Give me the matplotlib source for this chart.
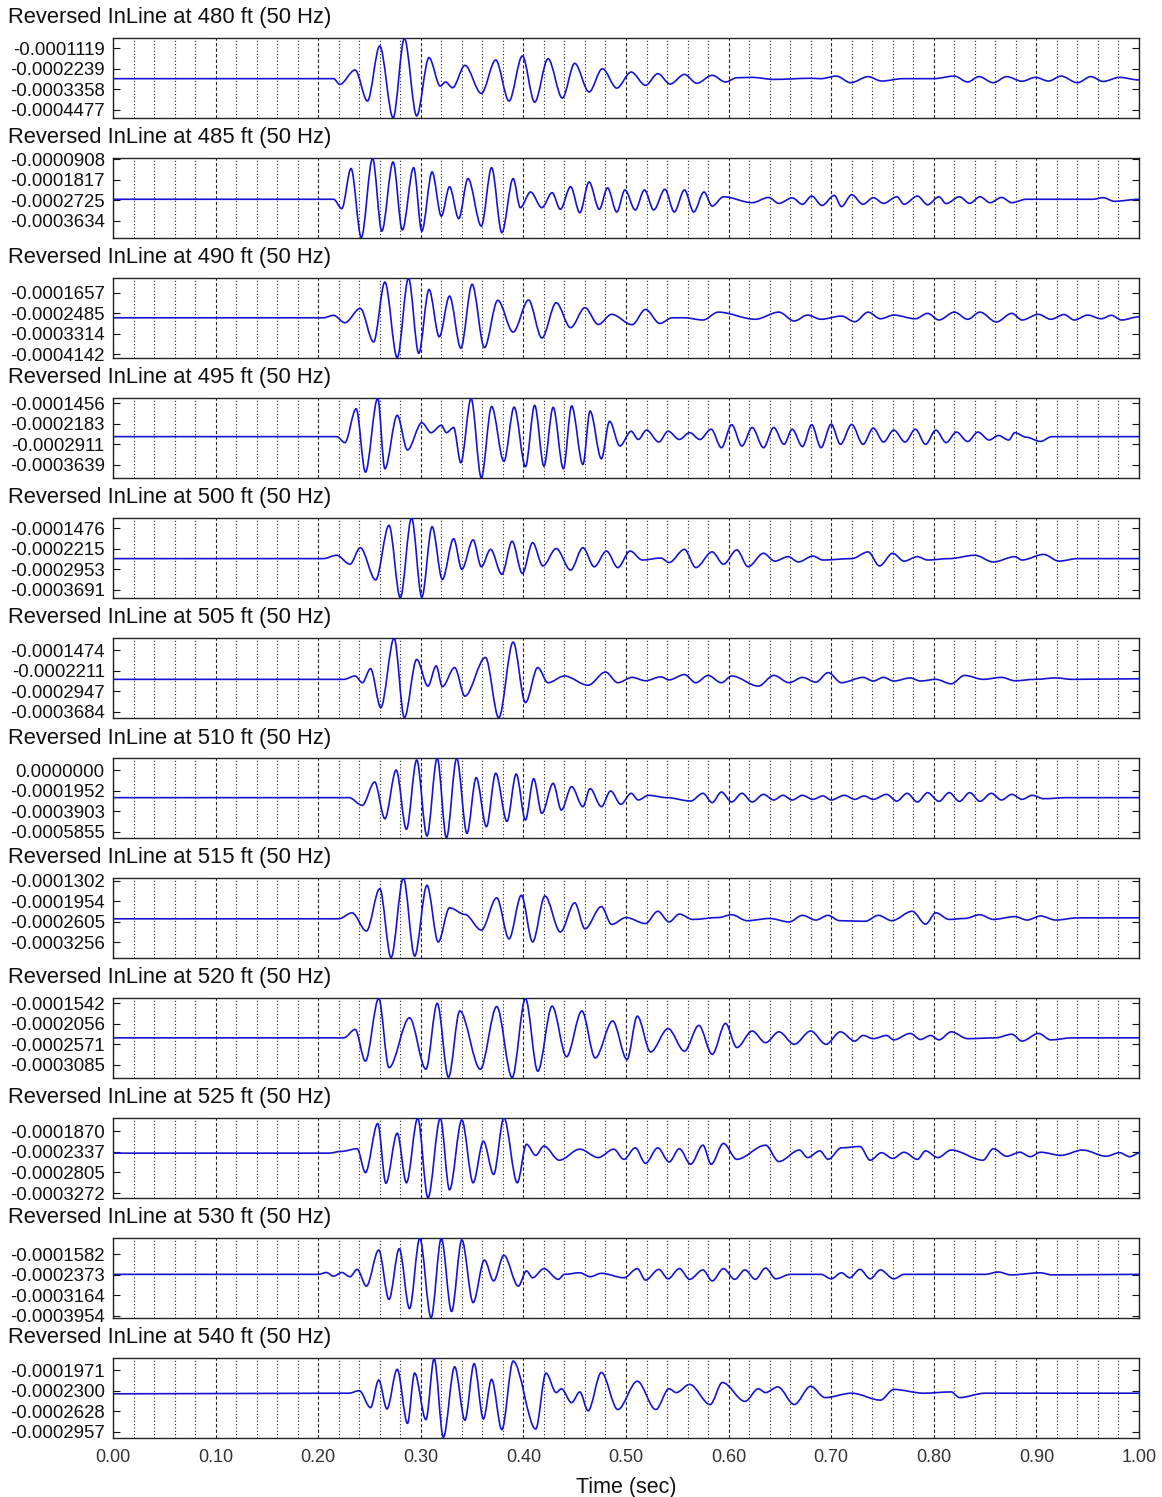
import matplotlib
matplotlib.use("Agg")
import numpy as np
import matplotlib.pyplot as plt
from matplotlib.path import Path
from matplotlib.patches import PathPatch
from matplotlib.ticker import MultipleLocator, FixedLocator

plt.rcParams["font.family"] = ["Liberation Sans", "DejaVu Sans"]

# ---------------------------------------------------------------------------
# Data: receiver offsets, y-axis ticks/limits and picked trace extrema
# (time in s, amplitude in units of 1e-4)
# ---------------------------------------------------------------------------
AMP_UNIT = 1e-4

offsets_ft = [480, 485, 490, 495, 500, 505, 510, 515, 520, 525, 530, 540]
source_freq_hz = 50

ytick_values = [
    [-0.0001119, -0.0002239, -0.0003358, -0.0004477],
    [-0.0000908, -0.0001817, -0.0002725, -0.0003634],
    [-0.0001657, -0.0002485, -0.0003314, -0.0004142],
    [-0.0001456, -0.0002183, -0.0002911, -0.0003639],
    [-0.0001476, -0.0002215, -0.0002953, -0.0003691],
    [-0.0001474, -0.0002211, -0.0002947, -0.0003684],
    [0.0000000, -0.0001952, -0.0003903, -0.0005855],
    [-0.0001302, -0.0001954, -0.0002605, -0.0003256],
    [-0.0001542, -0.0002056, -0.0002571, -0.0003085],
    [-0.0001870, -0.0002337, -0.0002805, -0.0003272],
    [-0.0001582, -0.0002373, -0.0003164, -0.0003954],
    [-0.0001971, -0.0002300, -0.0002628, -0.0002957],
]

# (upper, lower) amplitude limits, units of 1e-4
y_limits = [
    (-0.576, -4.912), (-0.864, -4.384), (-1.054, -4.303), (-1.279, -4.098),
    (-1.118, -3.978), (-1.045, -3.899), (1.137, -6.423), (-1.207, -3.762),
    (-1.417, -3.410), (-1.575, -3.385), (-0.968, -4.031), (-1.780, -3.053),
]

trace_480 = [
    (0.000, -2.78), (0.215, -2.78), (0.221, -3.09), (0.236, -2.31), (0.248, -3.99),
    (0.260, -1.01), (0.273, -4.90), (0.284, -0.60), (0.296, -4.80), (0.308, -1.64),
    (0.319, -3.18), (0.324, -2.96), (0.331, -3.27), (0.343, -2.06), (0.359, -3.58),
    (0.373, -1.77), (0.386, -3.99), (0.399, -1.55), (0.411, -4.05), (0.424, -1.70),
    (0.438, -3.83), (0.450, -1.95), (0.464, -3.50), (0.477, -2.24), (0.491, -3.29),
    (0.505, -2.42), (0.519, -3.14), (0.531, -2.51), (0.543, -3.07), (0.557, -2.55),
    (0.569, -3.03), (0.584, -2.60), (0.597, -2.96), (0.608, -2.73), (0.623, -2.71),
    (0.644, -2.82), (0.680, -2.76), (0.690, -2.78), (0.705, -2.64), (0.719, -3.00),
    (0.736, -2.67), (0.749, -2.91), (0.770, -2.78), (0.800, -2.78), (0.820, -2.64),
    (0.833, -2.96), (0.844, -2.67), (0.858, -3.00), (0.871, -2.67), (0.886, -2.92),
    (0.899, -2.71), (0.912, -2.91), (0.924, -2.64), (0.940, -3.00), (0.953, -2.67),
    (0.965, -2.93), (0.981, -2.71), (1.000, -2.85),
]

trace_485 = [
    (0.000, -2.68), (0.215, -2.68), (0.223, -3.09), (0.232, -1.33), (0.242, -4.36),
    (0.253, -0.88), (0.262, -4.08), (0.273, -1.04), (0.282, -4.03), (0.293, -1.29),
    (0.301, -4.08), (0.311, -1.48), (0.320, -3.42), (0.328, -2.13), (0.337, -3.53),
    (0.346, -1.77), (0.359, -3.86), (0.369, -1.29), (0.379, -4.15), (0.390, -1.77),
    (0.397, -3.05), (0.407, -2.36), (0.418, -3.05), (0.428, -2.39), (0.436, -3.12),
    (0.446, -2.13), (0.455, -3.27), (0.464, -1.92), (0.474, -3.12), (0.482, -2.18),
    (0.491, -3.24), (0.499, -2.27), (0.509, -3.15), (0.518, -2.27), (0.527, -3.15),
    (0.538, -2.24), (0.547, -3.24), (0.557, -2.27), (0.566, -3.24), (0.576, -2.36),
    (0.584, -2.98), (0.595, -2.57), (0.623, -2.83), (0.639, -2.60), (0.649, -2.86),
    (0.662, -2.62), (0.672, -2.90), (0.681, -2.54), (0.691, -2.95), (0.703, -2.51),
    (0.710, -3.00), (0.720, -2.48), (0.731, -2.90), (0.741, -2.61), (0.751, -2.86),
    (0.764, -2.57), (0.771, -2.90), (0.784, -2.54), (0.794, -2.92), (0.805, -2.57),
    (0.812, -2.87), (0.825, -2.57), (0.835, -2.86), (0.845, -2.57), (0.855, -2.83),
    (0.866, -2.60), (0.876, -2.83), (0.890, -2.68), (0.955, -2.68), (0.965, -2.61),
    (0.976, -2.77), (1.000, -2.68),
]

trace_490 = [
    (0.000, -2.67), (0.205, -2.67), (0.215, -2.57), (0.226, -2.87), (0.241, -2.29),
    (0.254, -3.65), (0.265, -1.22), (0.277, -4.29), (0.288, -1.06), (0.298, -4.11),
    (0.308, -1.52), (0.318, -3.44), (0.328, -1.79), (0.339, -3.90), (0.350, -1.31),
    (0.362, -3.88), (0.375, -1.96), (0.390, -3.25), (0.405, -1.95), (0.418, -3.49),
    (0.432, -2.06), (0.446, -3.07), (0.460, -2.26), (0.473, -2.94), (0.486, -2.53),
    (0.506, -2.95), (0.519, -2.33), (0.533, -2.90), (0.545, -2.67), (0.557, -2.67),
    (0.575, -2.76), (0.590, -2.44), (0.626, -2.73), (0.649, -2.44), (0.664, -2.80),
    (0.677, -2.56), (0.690, -2.73), (0.710, -2.60), (0.723, -2.83), (0.736, -2.44),
    (0.748, -2.71), (0.761, -2.56), (0.782, -2.71), (0.794, -2.49), (0.805, -2.76),
    (0.820, -2.44), (0.833, -2.73), (0.845, -2.44), (0.861, -2.84), (0.876, -2.49),
    (0.886, -2.76), (0.902, -2.53), (0.914, -2.73), (0.927, -2.54), (0.937, -2.76),
    (0.950, -2.56), (0.963, -2.71), (0.973, -2.57), (0.983, -2.76), (1.000, -2.63),
]

trace_495 = [
    (0.000, -2.64), (0.218, -2.64), (0.226, -2.85), (0.237, -1.66), (0.246, -3.89),
    (0.258, -1.29), (0.265, -3.77), (0.277, -1.89), (0.287, -3.11), (0.301, -2.15),
    (0.310, -2.50), (0.320, -2.24), (0.325, -2.50), (0.332, -2.32), (0.339, -3.56),
    (0.349, -1.30), (0.359, -4.09), (0.369, -1.58), (0.381, -3.51), (0.391, -1.60),
    (0.402, -3.70), (0.411, -1.54), (0.420, -3.68), (0.429, -1.61), (0.439, -3.77),
    (0.447, -1.56), (0.458, -3.62), (0.465, -1.74), (0.476, -3.42), (0.484, -2.10),
    (0.494, -2.97), (0.505, -2.45), (0.512, -2.74), (0.520, -2.41), (0.532, -2.83),
    (0.541, -2.45), (0.552, -2.74), (0.562, -2.50), (0.572, -2.74), (0.583, -2.38),
    (0.593, -3.03), (0.603, -2.22), (0.613, -2.97), (0.623, -2.32), (0.634, -3.03),
    (0.644, -2.32), (0.654, -2.91), (0.662, -2.38), (0.672, -2.99), (0.681, -2.22),
    (0.690, -3.03), (0.700, -2.20), (0.709, -2.91), (0.720, -2.21), (0.731, -2.91),
    (0.741, -2.34), (0.751, -2.83), (0.761, -2.41), (0.772, -2.83), (0.782, -2.38),
    (0.792, -2.91), (0.802, -2.41), (0.812, -2.85), (0.822, -2.48), (0.833, -2.81),
    (0.843, -2.48), (0.854, -2.76), (0.863, -2.60), (0.873, -2.76), (0.879, -2.50),
    (0.890, -2.66), (0.904, -2.81), (0.915, -2.64), (1.000, -2.64),
]

trace_500 = [
    (0.000, -2.57), (0.205, -2.57), (0.218, -2.45), (0.231, -2.77), (0.241, -2.18),
    (0.256, -3.33), (0.269, -1.38), (0.280, -3.97), (0.291, -1.12), (0.301, -3.95),
    (0.311, -1.43), (0.321, -3.31), (0.332, -1.86), (0.340, -2.95), (0.351, -1.90),
    (0.359, -2.86), (0.368, -2.24), (0.379, -3.13), (0.389, -1.95), (0.399, -3.10),
    (0.409, -2.00), (0.419, -2.83), (0.432, -2.21), (0.446, -2.98), (0.458, -2.18),
    (0.469, -2.86), (0.481, -2.30), (0.492, -2.89), (0.504, -2.30), (0.516, -2.62),
    (0.534, -2.55), (0.542, -2.71), (0.557, -2.24), (0.568, -2.89), (0.584, -2.33),
    (0.595, -2.77), (0.608, -2.26), (0.619, -2.86), (0.634, -2.38), (0.645, -2.66),
    (0.658, -2.50), (0.668, -2.69), (0.682, -2.48), (0.692, -2.62), (0.720, -2.57),
    (0.736, -2.33), (0.747, -2.83), (0.760, -2.38), (0.771, -2.66), (0.784, -2.50),
    (0.794, -2.62), (0.815, -2.57), (0.840, -2.45), (0.858, -2.69), (0.879, -2.50),
    (0.886, -2.62), (0.907, -2.42), (0.922, -2.66), (0.940, -2.57), (1.000, -2.57),
]

trace_505 = [
    (0.000, -2.52), (0.225, -2.52), (0.236, -2.40), (0.243, -2.64), (0.251, -2.14),
    (0.261, -3.53), (0.274, -1.05), (0.284, -3.89), (0.296, -1.81), (0.307, -2.76),
    (0.315, -2.04), (0.321, -2.78), (0.333, -2.10), (0.343, -3.12), (0.363, -1.74),
    (0.376, -3.89), (0.390, -1.19), (0.402, -3.35), (0.414, -2.10), (0.424, -2.64),
    (0.440, -2.40), (0.463, -2.73), (0.480, -2.26), (0.492, -2.64), (0.506, -2.45),
    (0.519, -2.57), (0.534, -2.43), (0.542, -2.54), (0.557, -2.35), (0.568, -2.64),
    (0.580, -2.38), (0.593, -2.64), (0.603, -2.40), (0.629, -2.76), (0.644, -2.38),
    (0.659, -2.64), (0.672, -2.45), (0.685, -2.62), (0.697, -2.28), (0.710, -2.64),
    (0.731, -2.45), (0.741, -2.58), (0.751, -2.45), (0.761, -2.58), (0.777, -2.47),
    (0.787, -2.58), (0.802, -2.52), (0.817, -2.68), (0.830, -2.38), (0.848, -2.52),
    (0.866, -2.45), (0.879, -2.57), (0.899, -2.52), (0.919, -2.47), (0.935, -2.52),
    (1.000, -2.50),
]

trace_510 = [
    (0.000, -2.61), (0.230, -2.61), (0.243, -3.34), (0.255, -1.13), (0.265, -4.60),
    (0.276, 0.00), (0.286, -5.60), (0.296, 0.95), (0.306, -6.23), (0.316, 1.12),
    (0.325, -6.41), (0.335, 1.12), (0.345, -5.98), (0.354, -0.72), (0.364, -5.35),
    (0.373, -0.31), (0.384, -4.85), (0.393, -0.38), (0.402, -4.72), (0.410, -0.82),
    (0.418, -4.09), (0.429, -1.26), (0.437, -3.78), (0.447, -1.57), (0.458, -3.46),
    (0.465, -1.76), (0.476, -3.46), (0.485, -1.98), (0.495, -3.24), (0.505, -2.20),
    (0.512, -2.83), (0.522, -2.39), (0.540, -2.61), (0.563, -2.93), (0.575, -2.20),
    (0.584, -3.08), (0.593, -2.08), (0.603, -3.02), (0.613, -2.20), (0.623, -3.02),
    (0.634, -2.30), (0.644, -2.83), (0.653, -2.39), (0.662, -2.83), (0.672, -2.39),
    (0.682, -2.77), (0.692, -2.45), (0.700, -2.83), (0.713, -2.39), (0.723, -2.77),
    (0.732, -2.45), (0.741, -2.77), (0.754, -2.30), (0.764, -2.93), (0.774, -2.20),
    (0.784, -3.02), (0.794, -2.14), (0.805, -2.96), (0.815, -2.14), (0.825, -2.96),
    (0.835, -2.14), (0.845, -2.96), (0.856, -2.20), (0.866, -2.83), (0.876, -2.30),
    (0.886, -2.77), (0.896, -2.39), (0.907, -2.71), (0.930, -2.61), (1.000, -2.61),
]

trace_515 = [
    (0.000, -2.51), (0.220, -2.51), (0.233, -2.32), (0.247, -2.90), (0.260, -1.55),
    (0.271, -3.75), (0.283, -1.21), (0.294, -3.70), (0.306, -1.44), (0.317, -3.25),
    (0.328, -2.16), (0.343, -2.37), (0.359, -2.87), (0.374, -1.84), (0.386, -3.15),
    (0.398, -1.76), (0.409, -3.25), (0.421, -1.78), (0.436, -2.93), (0.450, -2.00),
    (0.460, -2.83), (0.476, -2.12), (0.486, -2.69), (0.500, -2.47), (0.519, -2.66),
    (0.531, -2.27), (0.542, -2.61), (0.552, -2.36), (0.565, -2.53), (0.590, -2.47),
    (0.603, -2.38), (0.618, -2.57), (0.640, -2.50), (0.659, -2.61), (0.672, -2.40),
    (0.685, -2.55), (0.697, -2.40), (0.708, -2.57), (0.733, -2.59), (0.746, -2.40),
    (0.759, -2.57), (0.779, -2.27), (0.792, -2.68), (0.802, -2.32), (0.815, -2.53),
    (0.830, -2.50), (0.845, -2.38), (0.858, -2.53), (0.879, -2.44), (0.891, -2.55),
    (0.904, -2.42), (0.919, -2.55), (0.940, -2.48), (1.000, -2.48),
]

trace_520 = [
    (0.000, -2.41), (0.225, -2.41), (0.236, -2.20), (0.246, -2.99), (0.259, -1.43),
    (0.269, -3.15), (0.289, -1.91), (0.305, -3.19), (0.316, -1.55), (0.327, -3.39),
    (0.338, -1.74), (0.358, -3.19), (0.374, -1.63), (0.389, -3.40), (0.402, -1.43),
    (0.414, -3.24), (0.428, -1.62), (0.442, -2.88), (0.457, -1.74), (0.470, -2.91),
    (0.487, -1.99), (0.501, -2.95), (0.511, -1.87), (0.524, -2.76), (0.541, -2.18),
    (0.557, -2.74), (0.571, -2.10), (0.584, -2.82), (0.597, -2.05), (0.608, -2.65),
    (0.623, -2.24), (0.636, -2.53), (0.649, -2.26), (0.664, -2.57), (0.680, -2.24),
    (0.695, -2.57), (0.709, -2.26), (0.723, -2.49), (0.731, -2.35), (0.741, -2.43),
    (0.754, -2.35), (0.761, -2.46), (0.777, -2.30), (0.787, -2.45), (0.797, -2.35),
    (0.805, -2.46), (0.817, -2.26), (0.833, -2.43), (0.860, -2.41), (0.876, -2.32),
    (0.886, -2.49), (0.902, -2.30), (0.914, -2.46), (0.935, -2.41), (1.000, -2.41),
]

trace_525 = [
    (0.000, -2.37), (0.210, -2.37), (0.223, -2.33), (0.238, -2.27), (0.246, -2.81),
    (0.258, -1.70), (0.266, -3.05), (0.277, -1.92), (0.286, -3.04), (0.297, -1.58),
    (0.307, -3.38), (0.319, -1.58), (0.328, -3.20), (0.340, -1.62), (0.351, -3.04),
    (0.361, -2.10), (0.371, -2.85), (0.381, -1.57), (0.394, -3.04), (0.403, -2.17),
    (0.412, -2.42), (0.420, -2.21), (0.435, -2.53), (0.455, -2.28), (0.473, -2.47),
    (0.488, -2.28), (0.498, -2.51), (0.509, -2.25), (0.519, -2.60), (0.531, -2.25),
    (0.542, -2.57), (0.552, -2.27), (0.563, -2.62), (0.575, -2.19), (0.583, -2.62),
    (0.595, -2.15), (0.608, -2.51), (0.636, -2.19), (0.649, -2.56), (0.669, -2.30),
    (0.677, -2.47), (0.689, -2.32), (0.697, -2.51), (0.710, -2.25), (0.728, -2.22),
    (0.738, -2.53), (0.749, -2.36), (0.760, -2.49), (0.771, -2.35), (0.784, -2.51),
    (0.792, -2.32), (0.804, -2.47), (0.817, -2.30), (0.848, -2.53), (0.858, -2.27),
    (0.871, -2.44), (0.884, -2.35), (0.894, -2.45), (0.904, -2.35), (0.924, -2.42),
    (0.945, -2.30), (0.968, -2.44), (0.981, -2.36), (0.991, -2.45), (1.000, -2.37),
]

trace_530 = [
    (0.000, -2.36), (0.200, -2.36), (0.208, -2.29), (0.215, -2.43), (0.223, -2.29),
    (0.231, -2.45), (0.238, -2.17), (0.247, -2.81), (0.259, -1.43), (0.269, -3.32),
    (0.279, -1.38), (0.289, -3.67), (0.299, -0.98), (0.310, -4.02), (0.320, -0.98),
    (0.330, -3.78), (0.340, -1.04), (0.351, -3.44), (0.362, -1.81), (0.371, -2.61),
    (0.381, -1.63), (0.395, -2.81), (0.403, -2.23), (0.409, -2.49), (0.420, -2.14),
    (0.434, -2.55), (0.440, -2.36), (0.455, -2.30), (0.465, -2.45), (0.476, -2.32),
    (0.498, -2.49), (0.511, -2.14), (0.519, -2.58), (0.532, -2.17), (0.541, -2.53),
    (0.552, -2.14), (0.562, -2.55), (0.575, -2.19), (0.584, -2.61), (0.595, -2.14),
    (0.606, -2.55), (0.616, -2.19), (0.626, -2.55), (0.636, -2.12), (0.646, -2.53),
    (0.660, -2.36), (0.690, -2.36), (0.700, -2.53), (0.710, -2.30), (0.718, -2.49),
    (0.728, -2.17), (0.738, -2.53), (0.748, -2.19), (0.761, -2.53), (0.771, -2.36),
    (0.850, -2.36), (0.863, -2.27), (0.875, -2.38), (0.904, -2.30), (0.915, -2.38),
    (1.000, -2.36),
]

trace_540 = [
    (0.000, -2.35), (0.230, -2.34), (0.240, -2.30), (0.251, -2.57), (0.259, -2.13),
    (0.267, -2.59), (0.277, -1.96), (0.287, -2.82), (0.294, -2.02), (0.305, -2.76),
    (0.313, -1.79), (0.322, -3.04), (0.333, -1.92), (0.343, -2.77), (0.352, -1.87),
    (0.361, -2.75), (0.369, -2.12), (0.379, -2.92), (0.390, -1.83), (0.412, -2.91),
    (0.422, -2.02), (0.432, -2.33), (0.437, -2.27), (0.447, -2.49), (0.455, -2.32),
    (0.463, -2.62), (0.476, -2.01), (0.492, -2.60), (0.511, -2.15), (0.529, -2.60),
    (0.542, -2.27), (0.549, -2.33), (0.562, -2.20), (0.582, -2.52), (0.594, -2.17),
    (0.616, -2.47), (0.629, -2.27), (0.636, -2.33), (0.648, -2.24), (0.664, -2.52),
    (0.680, -2.23), (0.694, -2.41), (0.720, -2.34), (0.748, -2.45), (0.761, -2.28),
    (0.790, -2.34), (0.817, -2.32), (0.825, -2.41), (0.850, -2.34), (1.000, -2.34),
]

traces = [trace_480, trace_485, trace_490, trace_495, trace_500, trace_505,
          trace_510, trace_515, trace_520, trace_525, trace_530, trace_540]

x_tick_values = [0.0, 0.1, 0.2, 0.3, 0.4, 0.5, 0.6, 0.7, 0.8, 0.9, 1.0]


def smooth_trace_path(points):
    """Cubic Bezier path through the picked extrema with flat tangents."""
    verts = [(points[0][0], points[0][1] * AMP_UNIT)]
    codes = [Path.MOVETO]
    for (t0, a0), (t1, a1) in zip(points[:-1], points[1:]):
        dt = t1 - t0
        verts += [(t0 + dt / 3.0, a0 * AMP_UNIT),
                  (t1 - dt / 3.0, a1 * AMP_UNIT),
                  (t1, a1 * AMP_UNIT)]
        codes += [Path.CURVE4] * 3
    return Path(verts, codes)


W, H = 1162, 1497
fig = plt.figure(figsize=(W / 100, H / 100), dpi=100)

ax_left, ax_right = 113, 1139
first_top, panel_h, spacing = 38, 80, 120
trace_color = "#1414d2"

for k, (offset, points, ticks, (ytop, ybot)) in enumerate(
        zip(offsets_ft, traces, ytick_values, y_limits)):
    top = first_top + k * spacing
    ax = fig.add_axes([ax_left / W, 1 - (top + panel_h) / H,
                       (ax_right - ax_left) / W, panel_h / H])
    ax.set_xlim(0.0, 1.0)
    ax.set_ylim(ybot * AMP_UNIT, ytop * AMP_UNIT)

    ax.add_patch(PathPatch(smooth_trace_path(points), facecolor="none",
                           edgecolor=trace_color, lw=1.2, zorder=3))

    # vertical time grid: dashed every 0.1 s, dotted every 0.02 s
    ax.xaxis.set_major_locator(FixedLocator(x_tick_values))
    ax.xaxis.set_minor_locator(MultipleLocator(0.02))
    ax.grid(which="major", axis="x", color="#222222", lw=0.8, ls=(0, (3, 2)))
    ax.grid(which="minor", axis="x", color="#222222", lw=0.8, ls=(0, (1, 2)))
    ax.set_axisbelow(True)

    ax.set_yticks(ticks)
    ax.set_yticklabels([f"{v:.7f}" for v in ticks])
    ax.tick_params(axis="y", which="both", direction="in", left=True, right=True,
                   length=5, width=0.8, labelsize=13.4, pad=6, colors="#111111")
    ax.tick_params(axis="x", which="both", length=0, labelsize=13,
                   pad=8, colors="#333333")
    is_last = k == len(offsets_ft) - 1
    if is_last:
        ax.set_xticklabels([f"{v:.2f}" for v in x_tick_values])
        ax.set_xlabel("Time (sec)", fontsize=15.5, labelpad=8, color="#111111")
    else:
        ax.tick_params(axis="x", labelbottom=False)

    for s in ax.spines.values():
        s.set_color("#222222")
        s.set_linewidth(1.0)

    fig.text(8 / W, 1 - (top - 20) / H,
             f"Reversed InLine at {offset} ft ({source_freq_hz} Hz)",
             fontsize=15.8, color="#111111", ha="left", va="center")

fig.savefig("out.png", dpi=100, facecolor="white")
